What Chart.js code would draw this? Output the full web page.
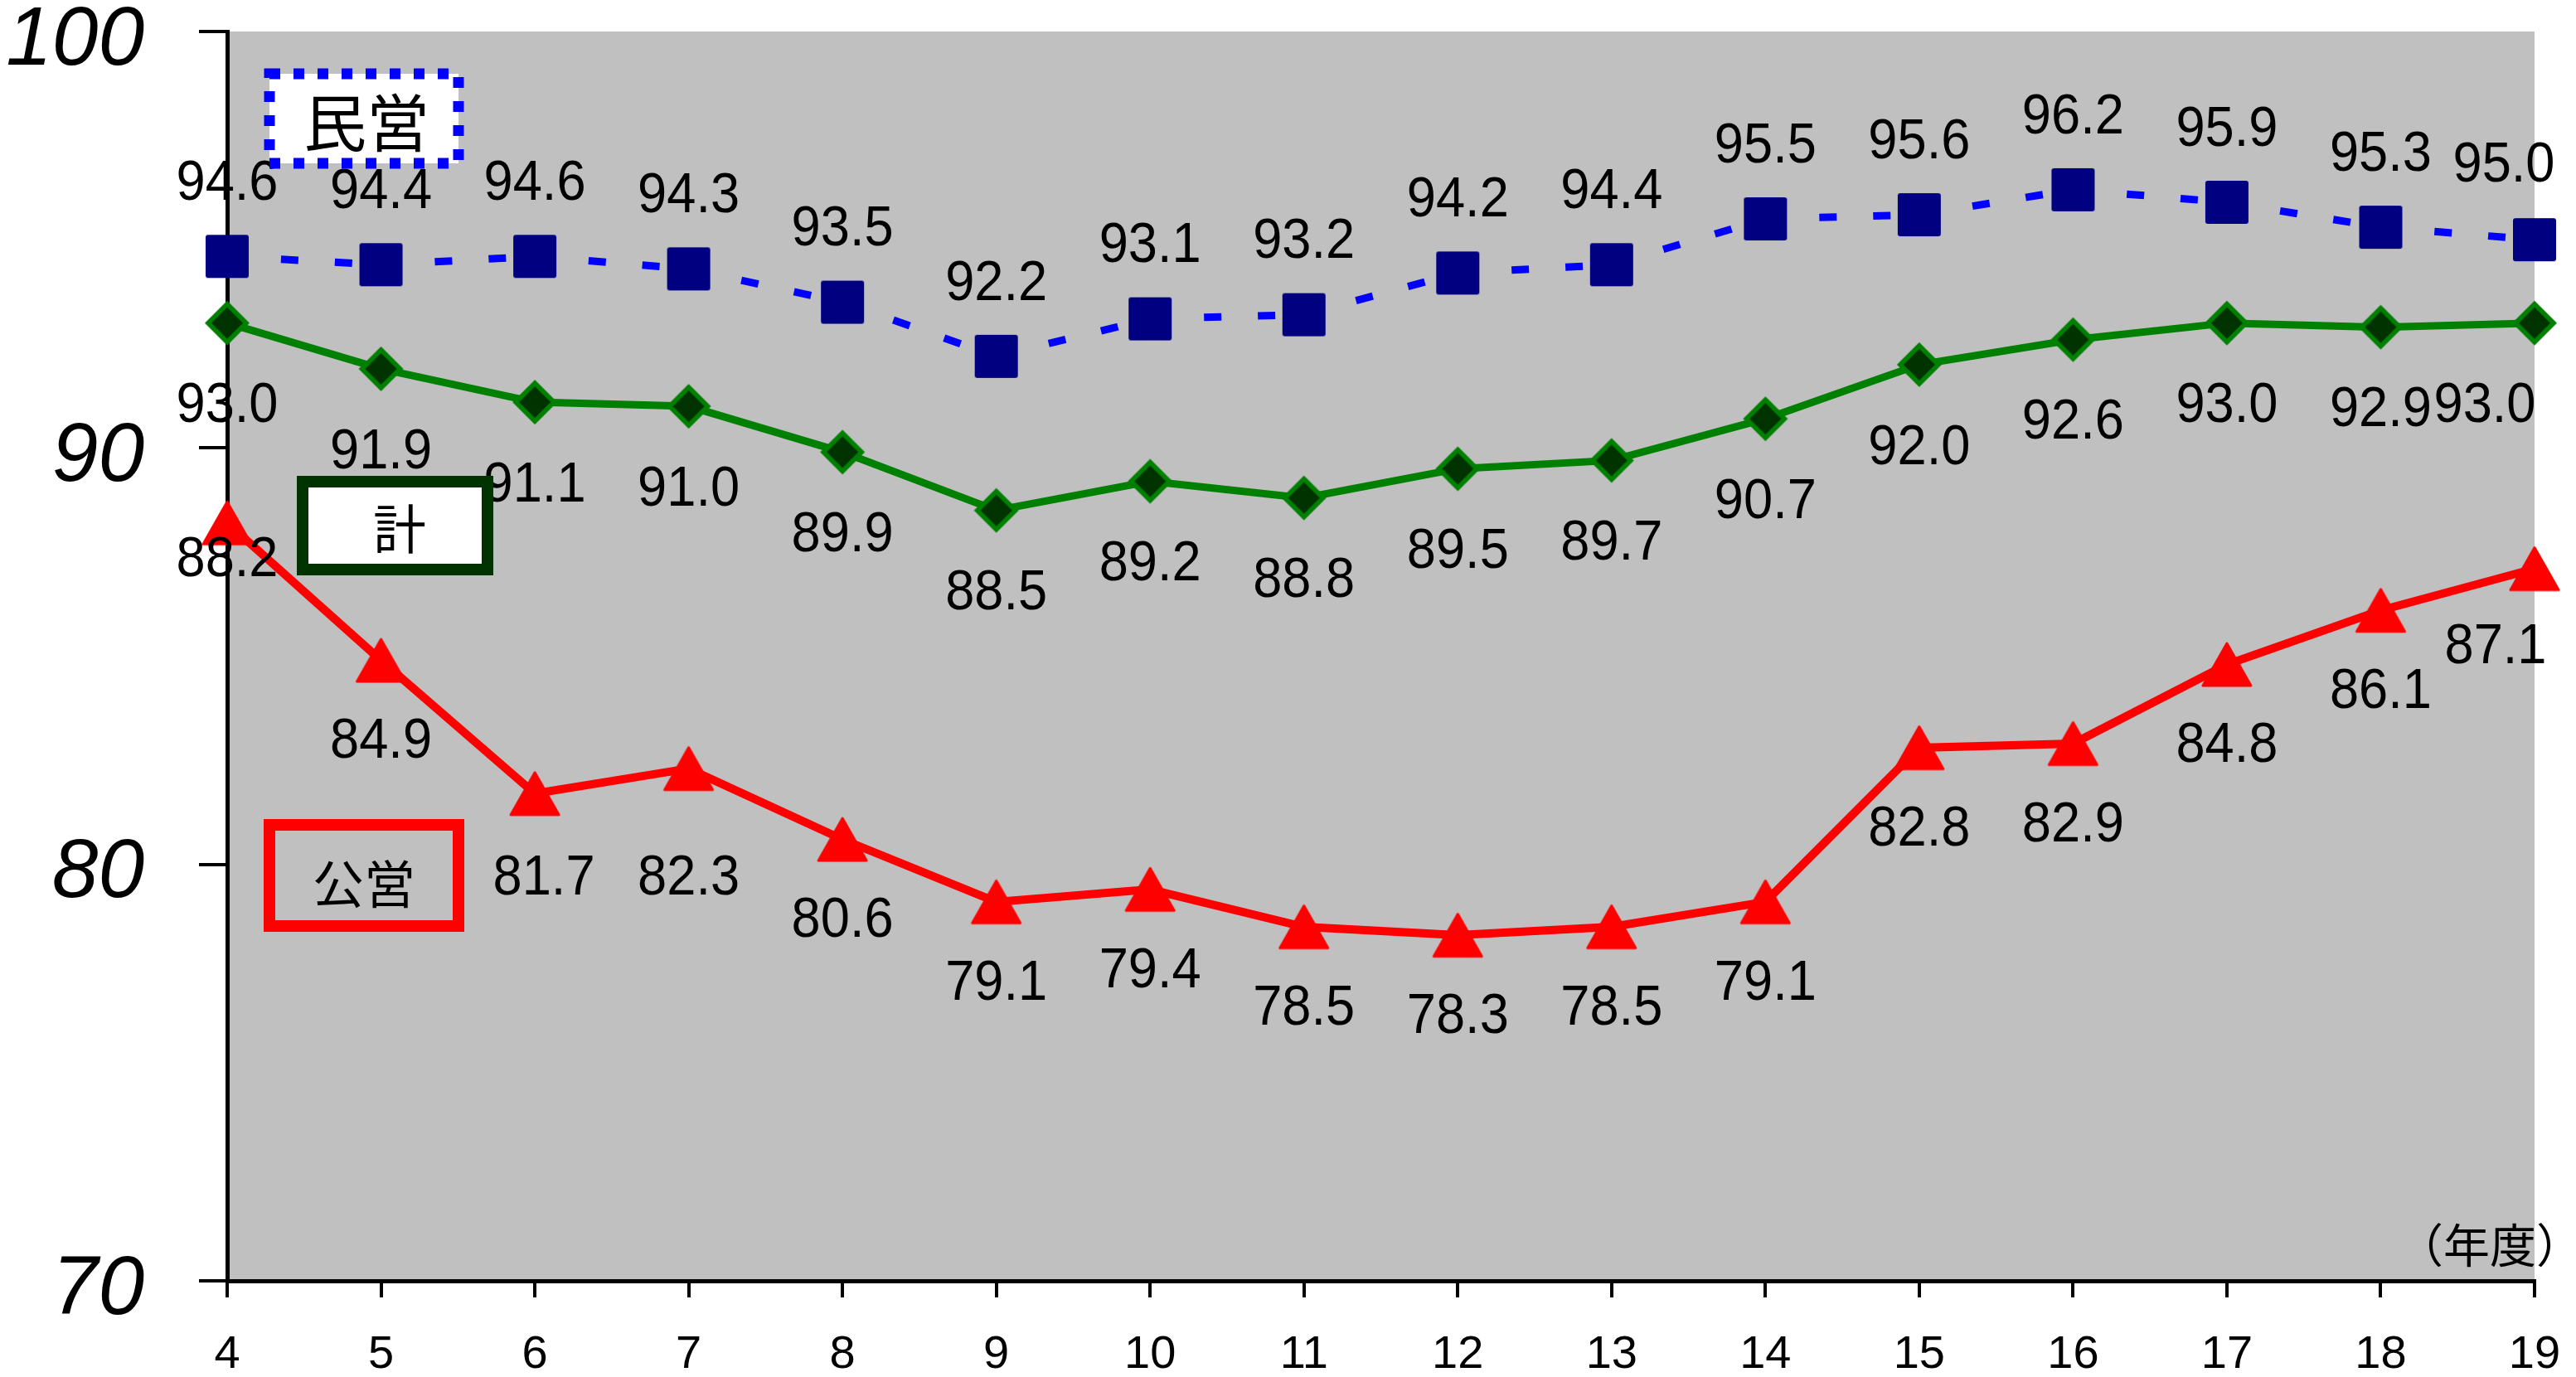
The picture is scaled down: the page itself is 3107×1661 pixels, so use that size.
<!DOCTYPE html>
<html lang="ja">
<head>
<meta charset="utf-8">
<title>稼働率の推移</title>
<script src="https://cdn.jsdelivr.net/npm/chart.js@4.4.1/dist/chart.umd.min.js"></script>
<style>
  html, body { margin: 0; padding: 0; background: #ffffff; }
  canvas { display: block; }
</style>
</head>
<body>
<canvas id="chart" width="3107" height="1661"></canvas>
<script>
// Fiscal years (平成) on the category axis
const years = ['4', '5', '6', '7', '8', '9', '10', '11', '12', '13', '14', '15', '16', '17', '18', '19'];

// Rates per year
const privateRate = [94.6, 94.4, 94.6, 94.3, 93.5, 92.2, 93.1, 93.2, 94.2, 94.4, 95.5, 95.6, 96.2, 95.9, 95.3, 95.0];
const totalRate   = [93.0, 91.9, 91.1, 91.0, 89.9, 88.5, 89.2, 88.8, 89.5, 89.7, 90.7, 92.0, 92.6, 93.0, 92.9, 93.0];
const publicRate  = [88.2, 84.9, 81.7, 82.3, 80.6, 79.1, 79.4, 78.5, 78.3, 78.5, 79.1, 82.8, 82.9, 84.8, 86.1, 87.1];

// Value axis
const yMin = 70;
const yMax = 100;
const yStep = 10;

const seriesNames = ['民営', '計', '公営'];
const unitLabel = '（年度）';

const LATIN = "'Liberation Sans', Arial, sans-serif";
const CJK = "'Noto Sans CJK JP', 'Noto Sans CJK SC', sans-serif";

// ---- marker images ----
function makeCanvas(w, h) {
  const c = document.createElement('canvas');
  c.width = w; c.height = h;
  return c;
}
function squareMarker() {
  const c = makeCanvas(54, 54), g = c.getContext('2d');
  g.fillStyle = '#000080';
  g.beginPath();
  g.roundRect(1, 1, 52, 52, 3);
  g.fill();
  return c;
}
function diamondMarker() {
  const c = makeCanvas(56, 56), g = c.getContext('2d');
  g.fillStyle = '#008000';
  g.beginPath();
  g.moveTo(28, 1); g.lineTo(55, 28); g.lineTo(28, 55); g.lineTo(1, 28);
  g.closePath(); g.fill();
  g.fillStyle = '#003300';
  g.beginPath();
  g.moveTo(28, 9); g.lineTo(47, 28); g.lineTo(28, 47); g.lineTo(9, 28);
  g.closePath(); g.fill();
  return c;
}
function triangleMarker() {
  const c = makeCanvas(64, 57), g = c.getContext('2d');
  g.fillStyle = '#FF0000';
  g.strokeStyle = '#FF0000';
  g.lineJoin = 'round';
  g.lineWidth = 3;
  g.beginPath();
  g.moveTo(32, 3); g.lineTo(61, 54); g.lineTo(3, 54);
  g.closePath(); g.fill(); g.stroke();
  return c;
}

// ---- value label placement (offset from each point) ----
const labelPlacement = [
  { dy: -87, shift: { 15: [-37, -2] } },
  { dy: 101, shift: { 15: [-60, 0] } },
  { dy: 99,  shift: { 0: [0, -54], 2: [11, 4], 3: [0, 34], 15: [-47, -4] } }
];

// ---- series name boxes (relative to chart area top-left) ----
const nameBoxes = [
  { text: seriesNames[0], x: 51, y: 51, w: 228, h: 108, stroke: '#0000FF', lineWidth: 13, dash: [13, 16], fill: '#FFFFFF', size: 76, tx: 168, ty: 110 },
  { text: seriesNames[1], x: 91, y: 543, w: 223, h: 106, stroke: '#003300', lineWidth: 14, dash: [], fill: '#FFFFFF', size: 64, tx: 208, ty: 600 },
  { text: seriesNames[2], x: 51, y: 957, w: 228, h: 122, stroke: '#FF0000', lineWidth: 14, dash: [], fill: null, size: 62, tx: 165, ty: 1028 }
];

const plotBackground = {
  id: 'plotBackground',
  beforeDraw(chart) {
    const { ctx, chartArea: a } = chart;
    ctx.save();
    ctx.fillStyle = '#C0C0C0';
    ctx.fillRect(a.left, a.top, a.right - a.left, a.bottom - a.top);
    ctx.restore();
  }
};

const valueLabels = {
  id: 'valueLabels',
  afterDatasetsDraw(chart) {
    const ctx = chart.ctx;
    ctx.save();
    ctx.fillStyle = '#000000';
    ctx.font = `68px ${LATIN}`;
    ctx.textAlign = 'center';
    ctx.textBaseline = 'middle';
    chart.data.datasets.forEach((ds, di) => {
      const meta = chart.getDatasetMeta(di);
      const place = labelPlacement[di];
      meta.data.forEach((pt, i) => {
        const s = place.shift[i] || [0, 0];
        ctx.save();
        ctx.translate(pt.x + s[0], pt.y + place.dy + s[1]);
        ctx.scale(0.93, 1);
        ctx.fillText(ds.data[i].toFixed(1), 0, 0);
        ctx.restore();
      });
    });
    ctx.restore();
  }
};

const annotations = {
  id: 'annotations',
  afterDraw(chart) {
    const { ctx, chartArea: a } = chart;
    ctx.save();
    nameBoxes.forEach(b => {
      const x = a.left + b.x, y = a.top + b.y;
      if (b.fill) {
        ctx.fillStyle = b.fill;
        ctx.fillRect(x, y, b.w, b.h);
      }
      ctx.strokeStyle = b.stroke;
      ctx.lineWidth = b.lineWidth;
      ctx.lineCap = 'butt';
      ctx.lineJoin = 'miter';
      ctx.setLineDash(b.dash);
      ctx.strokeRect(x, y, b.w, b.h);
      ctx.setLineDash([]);
      ctx.fillStyle = '#000000';
      ctx.font = `${b.size}px ${CJK}`;
      ctx.textAlign = 'center';
      ctx.textBaseline = 'middle';
      ctx.fillText(b.text, a.left + b.tx, a.top + b.ty);
    });
    // unit of the category axis
    ctx.fillStyle = '#000000';
    ctx.font = `56px ${CJK}`;
    ctx.textAlign = 'center';
    ctx.textBaseline = 'middle';
    ctx.fillText(unitLabel, a.right - 54, a.bottom - 43);
    ctx.restore();
  }
};

// restart the dash pattern on every segment
const dashRestart = c => (c.p0DataIndex % 2 ? 0.001 : 0);

new Chart(document.getElementById('chart'), {
  type: 'line',
  data: {
    labels: years,
    datasets: [
      {
        label: seriesNames[0], data: privateRate,
        borderColor: '#0000FF', borderWidth: 9, borderDash: [21, 44],
        segment: { borderDashOffset: dashRestart },
        pointStyle: squareMarker(), pointRadius: 27, clip: false, tension: 0
      },
      {
        label: seriesNames[1], data: totalRate,
        borderColor: '#008000', borderWidth: 9,
        pointStyle: diamondMarker(), pointRadius: 27, clip: false, tension: 0
      },
      {
        label: seriesNames[2], data: publicRate,
        borderColor: '#FF0000', borderWidth: 10,
        pointStyle: triangleMarker(), pointRadius: 30, clip: false, tension: 0
      }
    ]
  },
  options: {
    responsive: false,
    animation: false,
    devicePixelRatio: 1,
    events: [],
    layout: { autoPadding: false, padding: { top: 38, right: 50, bottom: 0, left: 0 } },
    plugins: { legend: { display: false }, tooltip: { enabled: false } },
    scales: {
      x: {
        type: 'category',
        offset: false,
        grid: { drawOnChartArea: false, drawTicks: true, tickLength: 20, tickWidth: 4, tickColor: '#000000', color: '#000000', lineWidth: 4 },
        border: { display: true, color: '#000000', width: 5 },
        ticks: { color: '#000000', font: { family: LATIN, size: 56 }, padding: 36, maxRotation: 0, autoSkip: false },
        afterFit(s) { s.height = 116; s.paddingLeft = 0; s.paddingRight = 0; }
      },
      y: {
        min: yMin, max: yMax,
        grid: { drawOnChartArea: false, drawTicks: true, tickLength: 34, tickWidth: 4, tickColor: '#000000', color: '#000000', lineWidth: 4 },
        border: { display: true, color: '#000000', width: 5 },
        ticks: { stepSize: yStep, color: '#000000', font: { family: LATIN, size: 100, style: 'italic' }, padding: 66, labelOffset: 12 },
        afterFit(s) { s.width = 274; s.paddingTop = 0; s.paddingBottom = 0; }
      }
    }
  },
  plugins: [plotBackground, valueLabels, annotations]
});
</script>
</body>
</html>
